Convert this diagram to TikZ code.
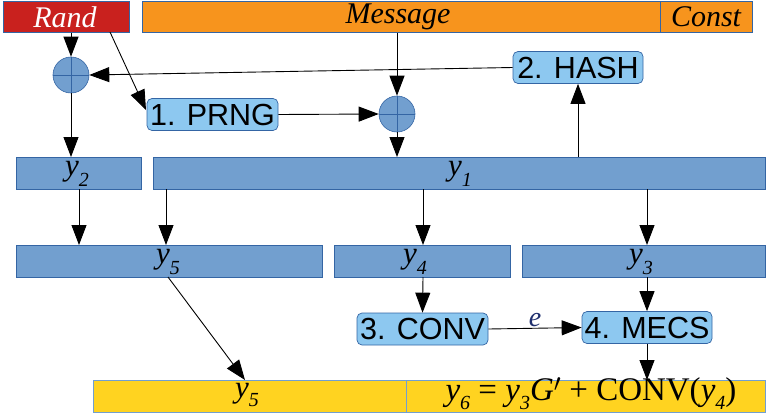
\documentclass[tikz,border=0pt]{standalone}
\usepackage{fontspec}
\setmainfont{Liberation Serif}
\newfontfamily\arialf{Liberation Sans}
\usetikzlibrary{arrows.meta}
\definecolor{cRed}{HTML}{C9211E}
\definecolor{cOrange}{HTML}{F7941D}
\definecolor{cBlue}{HTML}{729FCF}
\definecolor{cBlueDark}{HTML}{3465A4}
\definecolor{cLight}{HTML}{8DC8F0}
\definecolor{cYellow}{HTML}{FFD320}
\definecolor{cNavy}{HTML}{1F2F6E}
\newcommand{\yv}[1]{{\itshape y}\raisebox{-0.36em}{\fontsize{20}{20}\selectfont\itshape #1}}
\newcommand{\yw}[1]{{\itshape y}\raisebox{-0.28em}{\fontsize{20}{20}\selectfont\itshape #1}}
\tikzset{
  bar/.style={draw=cBlueDark, line width=0.6pt, inner sep=0pt, anchor=north west},
  bluebar/.style={bar, fill=cBlue},
  proc/.style={draw=cBlueDark, fill=cLight, rounded corners=5pt, line width=0.7pt,
    font=\arialf\fontsize{30.5}{32}\selectfont, inner sep=0pt, minimum height=32pt},
  arr/.style={line width=0.9pt, -{Triangle[length=20pt,width=15pt]}},
  lbl/.style={font=\fontsize{31}{33}\selectfont, inner sep=0pt},
  xorc/.style={circle, draw=cBlueDark, fill=cBlue, minimum size=36pt, inner sep=0pt, line width=0.6pt}
}
\begin{document}
\begin{tikzpicture}[x=1pt,y=-1pt]
\useasboundingbox (0,0) rectangle (770,415);
% top row
\node[bar, fill=cRed, minimum width=126pt, minimum height=31pt] (rand) at (3,1) {};
\node[lbl, text=white, font=\itshape\fontsize{30}{32}\selectfont] at (65,17) {Rand};
\node[bar, fill=cOrange, minimum width=518pt, minimum height=31pt] (msg) at (142,1) {};
\node[bar, fill=cOrange, minimum width=92pt, minimum height=31pt] (const) at (660,1) {};
\node[lbl, font=\itshape\fontsize{30}{32}\selectfont] at (398,17) {Message};
\node[lbl, font=\itshape\fontsize{30}{32}\selectfont] at (706,17) {Const};
% xor circles
\node[xorc] (xl) at (71,75) {};
\draw[cBlueDark, line width=0.6pt] (xl.north) -- (xl.south) (xl.west) -- (xl.east);
\node[xorc] (xr) at (397,114) {};
\draw[cBlueDark, line width=0.6pt] (xr.north) -- (xr.south) (xr.west) -- (xr.east);
% process boxes
\node[proc, minimum width=131pt] (prng) at (212.5,114.5) {1. PRNG};
\node[proc, minimum width=130pt] (hash) at (578,67.5) {2. HASH};
\node[proc, minimum width=131pt] (conv) at (422.5,329) {3. CONV};
\node[proc, minimum width=130pt] (mecs) at (647,327.5) {4. MECS};
% y bars
\node[bluebar, minimum width=125pt, minimum height=32pt] (y2) at (16,157) {};
\node[bluebar, minimum width=612pt, minimum height=32pt] (y1) at (153,157) {};
\node[bluebar, minimum width=306pt, minimum height=32pt] (y5) at (16,245) {};
\node[bluebar, minimum width=176pt, minimum height=32pt] (y4) at (334,245) {};
\node[bluebar, minimum width=243pt, minimum height=32pt] (y3) at (522,245) {};
\node[lbl] at (77,174) {\yv{2}};
\node[lbl] at (460,174) {\yv{1}};
\node[lbl] at (168,262) {\yv{5}};
\node[lbl] at (415,262) {\yv{4}};
\node[lbl] at (641,262) {\yv{3}};
% bottom bar
\node[bar, fill=cYellow, draw=cBlue, minimum width=313pt, minimum height=32pt] (b5) at (93,380) {};
\node[bar, fill=cYellow, draw=cBlue, minimum width=359pt, minimum height=32pt] (b6) at (406,380) {};
\node[lbl] at (247,395) {\yw{5}};
\node[lbl, font=\fontsize{33}{35}\selectfont] at (591,394) {\yw{6} = \yw{3}{\itshape G}$'$ + CONV(\yw{4})};
% connector coordinates
\coordinate (randR) at (110,32);
\coordinate (prngT) at (146,110);
% arrows
\draw[arr] (xl.north |- rand.south) -- (xl.north);
\draw[arr] (randR) -- (prngT);
\draw[arr] (hash.west) -- (xl.east);
\draw[arr] (xr.north |- msg.south) -- (xr.north);
\draw[arr] (prng.east) -- (xr.west);
\draw[arr] (xr.south) -- (xr.south |- y1.north);
\draw[arr] (xl.south) -- (xl.south |- y2.north);
\draw[arr] (hash.south |- y1.north) -- (hash.south);
\draw[arr] (79,189) -- (79,245);
\draw[arr] (166,189) -- (166,245);
\draw[arr] (423,189) -- (423,245);
\draw[arr] (647,189) -- (647,245);
\draw[arr] (423,277) -- (conv.north);
\draw[arr] (647,277) -- (mecs.north);
\draw[arr] (conv.east) -- node[above=1pt, text=cNavy, font=\itshape\fontsize{28}{30}\selectfont, inner sep=0pt] {e} (mecs.west);
\draw[arr] (mecs.south) -- (mecs.south |- b6.north);
\draw[arr] (168,277) -- (245,380);
\end{tikzpicture}
\end{document}
